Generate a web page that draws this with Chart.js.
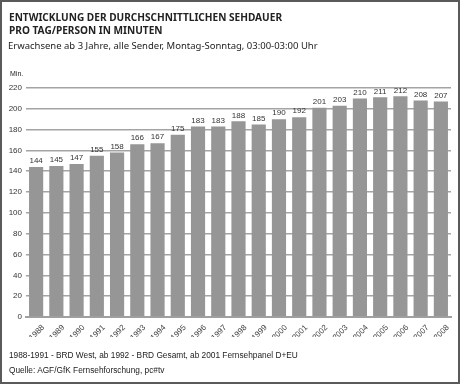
<!DOCTYPE html>
<html>
<head>
<meta charset="utf-8">
<script src="https://cdn.jsdelivr.net/npm/chart.js@4"></script>
<style>
  html, body { margin: 0; padding: 0; background: #fff; }
  #frame {
    position: relative; width: 460px; height: 384px; box-sizing: border-box;
    border: 2px solid #5a5a5a; background: #fff; overflow: hidden;
  }
  #chart { position: absolute; left: -2px; top: -2px; }
  .txt { position: absolute; white-space: nowrap; color: #222; }
  .title { font-family: "Noto Sans", sans-serif; font-weight: bold; font-size: 10.1px; line-height: 13px; left: 7px; top: 9px; }
  .sub { font-family: "Noto Sans", sans-serif; font-size: 9.5px; left: 6px; top: 37px; }
  .unit { font-family: "Liberation Sans", Arial, sans-serif; font-size: 7px; left: 8px; top: 68px; }
  .foot { font-family: "Liberation Sans", Arial, sans-serif; font-size: 8.3px; left: 7px; }
</style>
</head>
<body>
<div id="frame">
  <canvas id="chart" width="460" height="384"></canvas>
  <div class="txt title">ENTWICKLUNG DER DURCHSCHNITTLICHEN SEHDAUER<br>PRO TAG/PERSON IN MINUTEN</div>
  <div class="txt sub">Erwachsene ab 3 Jahre, alle Sender, Montag-Sonntag, 03:00-03:00 Uhr</div>
  <div class="txt unit">Min.</div>
  <div class="txt foot" style="top:348px">1988-1991 - BRD West, ab 1992 - BRD Gesamt, ab 2001 Fernsehpanel D+EU</div>
  <div class="txt foot" style="top:363px">Quelle: AGF/GfK Fernsehforschung, pc#tv</div>
</div>
<script>
// Jahre und Sehdauer (Minuten)
const years = ['1988', '1989', '1990', '1991', '1992', '1993', '1994', '1995', '1996', '1997', '1998',
               '1999', '2000', '2001', '2002', '2003', '2004', '2005', '2006', '2007', '2008'];
const minutes = [144, 145, 147, 155, 158, 166, 167, 175, 183, 183, 188,
                 185, 190, 192, 201, 203, 210, 211, 212, 208, 207];

// Werte über den Balken
const valueLabels = {
    id: 'valueLabels',
    afterDatasetsDraw: function(chart) {
        const ctx = chart.ctx;
        const meta = chart.getDatasetMeta(0);
        ctx.save();
        ctx.font = '8px "Liberation Sans", Arial, sans-serif';
        ctx.fillStyle = '#333';
        ctx.textAlign = 'center';
        ctx.textBaseline = 'bottom';
        meta.data.forEach((bar, i) => {
            ctx.fillText(String(minutes[i]), bar.x, bar.y - 2);
        });
        ctx.restore();
    }
};

new Chart(document.getElementById('chart').getContext('2d'), {
    type: 'bar',
    data: {
        labels: years,
        datasets: [{
            data: minutes,
            backgroundColor: '#969696',
            borderWidth: 0,
            barPercentage: 0.7,
            categoryPercentage: 1
        }]
    },
    options: {
        responsive: false,
        animation: false,
        events: [],
        layout: { padding: { top: 88, left: 2, right: 9, bottom: 47 } },
        plugins: {
            legend: { display: false },
            tooltip: { enabled: false }
        },
        scales: {
            x: {
                grid: { display: false, drawTicks: false },
                border: { display: true, color: '#a0a0a0', width: 2 },
                afterFit: function(scale) { scale.height = 20; },
                ticks: {
                    minRotation: 45,
                    maxRotation: 45,
                    autoSkip: false,
                    padding: 6,
                    labelOffset: 7,
                    color: '#444',
                    font: { family: '"Liberation Sans", Arial, sans-serif', size: 8 }
                }
            },
            y: {
                min: 0,
                max: 220,
                grid: { color: '#a4a4a4', lineWidth: 1.6, drawTicks: false },
                border: { display: false },
                afterFit: function(scale) { scale.width = 24; },
                ticks: {
                    stepSize: 20,
                    padding: 4,
                    color: '#333',
                    font: { family: '"Liberation Sans", Arial, sans-serif', size: 8 }
                }
            }
        }
    },
    plugins: [valueLabels]
});
</script>
</body>
</html>
